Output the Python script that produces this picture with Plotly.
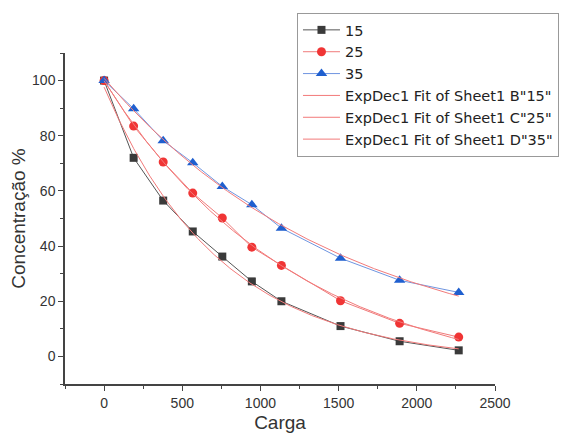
import numpy as np
import plotly.graph_objects as go

carga = [0, 189, 378, 567, 756, 945, 1134, 1512, 1890, 2268]
s15 = [100, 72, 56.5, 45.3, 36.2, 27.2, 20, 11, 5.5, 2.2]
s25 = [100, 83.5, 70.5, 59.2, 50.2, 39.6, 33, 20.2, 12, 7]
s35 = [100, 89.8, 78.2, 70.2, 61.6, 55, 46.5, 35.6, 27.6, 23.2]
names = ["15", "25", "35"]
fit_names = ['ExpDec1 Fit of Sheet1 B"15"', 'ExpDec1 Fit of Sheet1 C"25"', 'ExpDec1 Fit of Sheet1 D"35"']


def expdec1_fit(x, y):
    """Fit y = A1*exp(-x/t1) + y0 by grid search on t1 and linear least squares."""
    x = np.asarray(x, float)
    y = np.asarray(y, float)
    best = None
    for t1 in np.linspace(100, 6000, 3000):
        M = np.column_stack([np.exp(-x / t1), np.ones_like(x)])
        coef, *_ = np.linalg.lstsq(M, y, rcond=None)
        r = np.sum((M @ coef - y) ** 2)
        if best is None or r < best[0]:
            best = (r, t1, coef)
    _, t1, (a1, y0) = best
    return lambda xx: a1 * np.exp(-xx / t1) + y0


font = "Liberation Sans, Arial, sans-serif"
fig = go.Figure()

styles = [
    dict(color="#3a3a3a", line="#555555", symbol="square", size=8),
    dict(color="#f03535", line="#f07a7a", symbol="circle", size=9),
    dict(color="#1f5fcf", line="#6f95e0", symbol="triangle-up", size=10),
]
series = [s15, s25, s35]
for name, ys, st in zip(names, series, styles):
    fig.add_trace(go.Scatter(
        x=carga, y=ys, name=name, mode="lines+markers",
        line=dict(color=st["line"], width=1),
        marker=dict(symbol=st["symbol"], size=st["size"], color=st["color"]),
    ))

xs = np.linspace(carga[0], carga[-1], 300)
for fname, ys in zip(fit_names, series):
    f = expdec1_fit(carga, ys)
    fig.add_trace(go.Scatter(
        x=xs, y=f(xs), name=fname, mode="lines",
        line=dict(color="#f27a7a", width=1),
    ))

axis_common = dict(
    showline=True, linecolor="#444444", linewidth=1.5,
    ticks="outside", ticklen=5, tickwidth=1.2, tickcolor="#444444",
    showgrid=False, zeroline=False,
    tickfont=dict(family=font, size=14, color="#333333"),
    mirror=False, automargin=False,
)
fig.update_xaxes(
    range=[-250, 2500], dtick=500, tick0=0,
    minor=dict(dtick=250, ticks="outside", ticklen=3, tickcolor="#444444"),
    title=dict(text="Carga", font=dict(family=font, size=19, color="#333333"), standoff=6),
    **axis_common,
)
fig.update_yaxes(
    range=[-10, 110], dtick=20, tick0=0,
    minor=dict(dtick=10, ticks="outside", ticklen=3, tickcolor="#444444"),
    title=dict(text="Concentração %", font=dict(family=font, size=19, color="#333333"), standoff=3),
    **axis_common,
)

# the page body adds an 8 px margin, so the figure is 8 px smaller to fill the window
fig.update_layout(
    width=568, height=427,
    margin=dict(l=57, r=81, t=45, b=51, autoexpand=False),
    plot_bgcolor="white", paper_bgcolor="white",
    showlegend=True,
    legend=dict(
        x=0.5395, y=1.121, xanchor="left", yanchor="top",
        bgcolor="white", bordercolor="#999999", borderwidth=1,
        font=dict(family="DejaVu Sans, sans-serif", size=14.5, color="#222222"),
        tracegroupgap=0, itemwidth=37,
    ),
)

fig.write_html("out.html")
